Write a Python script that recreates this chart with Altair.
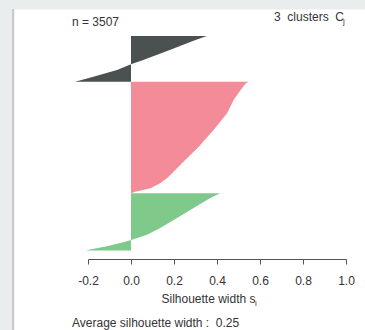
import altair as alt
import pandas as pd

# Silhouette widths per cluster, sampled along the sorted observations
cluster_names = ["1", "2", "3"]
cluster_sizes = [747, 1825, 935]
cluster_colors = ["#4b5050", "#f48b99", "#7fc98a"]

c1_rank = [0, 65, 229, 392, 463, 556, 665, 747]
c1_sil = [0.353, 0.30, 0.18, 0.057, 0.0, -0.065, -0.175, -0.26]

c2_rank = [0, 34, 136, 299, 517, 790, 1063, 1334, 1553, 1661, 1743, 1798, 1825]
c2_sil = [0.547, 0.532, 0.51, 0.477, 0.447, 0.384, 0.315, 0.237, 0.175, 0.136, 0.09, 0.02, 0.0]

c3_rank = [0, 77, 240, 404, 567, 677, 759, 813, 867, 923, 935]
c3_sil = [0.415, 0.369, 0.291, 0.214, 0.136, 0.074, 0.005, -0.05, -0.112, -0.197, -0.21]

avg_width = 0.25
x_ticks = [-0.2, 0.0, 0.2, 0.4, 0.6, 0.8, 1.0]

ranks = [c1_rank, c2_rank, c3_rank]
sils = [c1_sil, c2_sil, c3_sil]
rows = []
offset = 0
for name, size, rk, sv in zip(cluster_names, cluster_sizes, ranks, sils):
    for r, s in zip(rk, sv):
        rows.append({"cluster": name, "pos": offset + r, "sil": s})
    offset += size
df = pd.DataFrame(rows)
n_total = sum(cluster_sizes)

FONT = "Liberation Sans"
TXT = "#333333"
NB = "\u00a0"  # keeps double spaces from collapsing

x_scale = alt.Scale(domain=[-0.2, 1.0], range=[74, 332], nice=False, zero=False)
y_scale = alt.Scale(domain=[0, n_total], range=[27, 241.5], nice=False, zero=False)

areas = alt.Chart(df).mark_area(orient="horizontal", interpolate="linear").encode(
    x=alt.X("sil:Q", scale=x_scale, stack=None,
            axis=alt.Axis(values=x_ticks, offset=-71, tickSize=5,
                          labelExpr="datum.value < 0 ? '-' + format(-datum.value, '.1f') : format(datum.value, '.1f')",
                          labelFlush=False, labelOverlap=False,
                          domainColor="#555555", tickColor="#555555", grid=False,
                          labelFont=FONT, labelFontSize=12, labelColor=TXT,
                          labelBaseline="alphabetic", labelPadding=20,
                          title="Silhouette width s", titleFont=FONT,
                          titleFontSize=12, titleFontWeight="normal", titleColor=TXT,
                          titleBaseline="alphabetic", titleAlign="left",
                          titleX=147, titleY=43)),
    x2=alt.datum(0),
    y=alt.Y("pos:Q", scale=y_scale, axis=None),
    color=alt.Color("cluster:N", scale=alt.Scale(domain=cluster_names, range=cluster_colors),
                    legend=None),
    detail="cluster:N",
)

def label(text, x, y, size=12):
    return alt.Chart(pd.DataFrame({"t": [text]})).mark_text(
        align="left", baseline="alphabetic", font=FONT, fontSize=size, color=TXT
    ).encode(text="t:N", x=alt.value(x), y=alt.value(y))

n_label = label(f"n = {n_total}", 58, 17)
k_label = label(f"{len(cluster_names)} {NB}clusters {NB}C", 260, 12)
k_sub = label("j", 329, 15, 8)
s_sub = label("i", 241, 297, 8)
avg_label = label(f"Average silhouette width : {NB}{avg_width:.2f}", 58, 318)

edge = alt.Chart(pd.DataFrame({"a": [0]})).mark_rule(color="#c8caca", strokeWidth=2).encode(
    x=alt.value(-1), y=alt.value(0), y2=alt.value(321)
)

chart = alt.layer(edge, areas, n_label, k_label, k_sub, s_sub, avg_label).properties(
    width=351, height=321,
    autosize=alt.AutoSizeParams(type="none"),
    padding={"left": 14, "top": 9, "right": 0, "bottom": 0},
    background="#e9eded",
).configure_view(fill="white", stroke="transparent")

chart.save("out.html", embed_options={"renderer": "svg", "actions": False})
